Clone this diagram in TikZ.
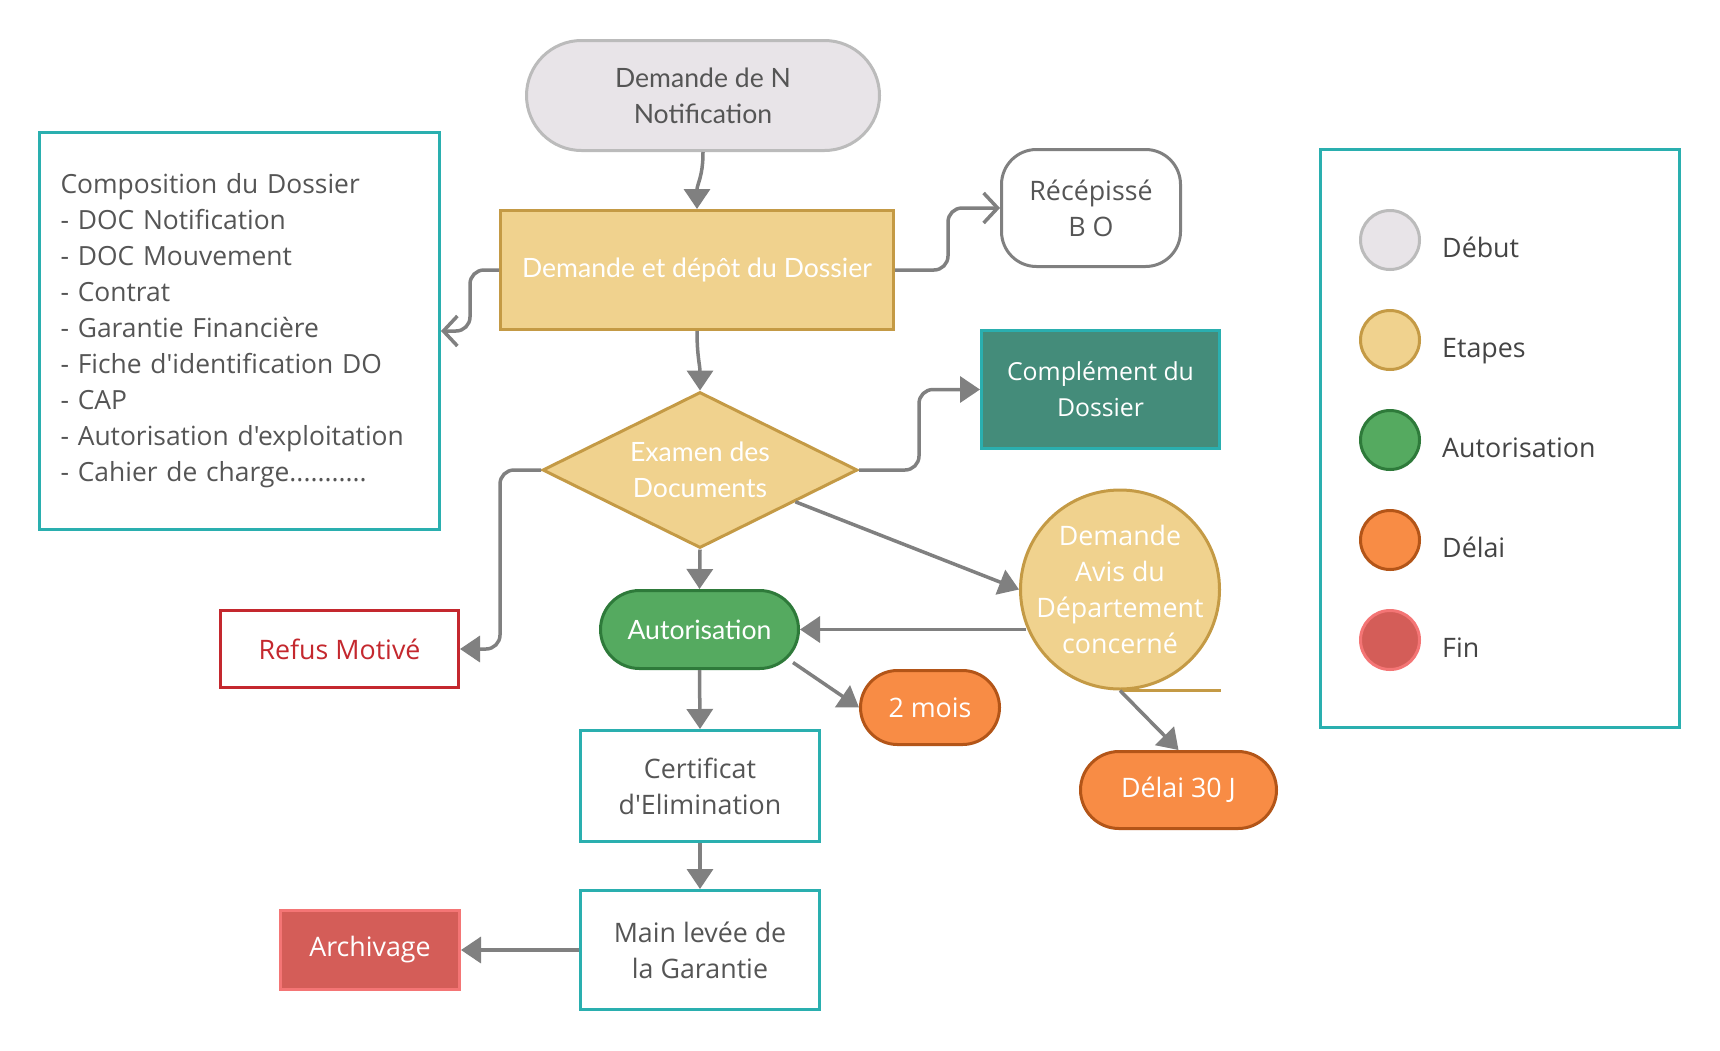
\documentclass[tikz,border=0pt]{standalone}
\usepackage{fontspec}
\setmainfont{Open Sans}[Ligatures=TeXOff]
\newfontfamily\latofont{Lato}[Ligatures=TeXOff]
\usetikzlibrary{arrows.meta,shapes.geometric,shapes.misc,calc}

\definecolor{startfill}{HTML}{E8E4E8}
\definecolor{startline}{HTML}{BBBBBB}
\definecolor{stepfill}{HTML}{F0D28E}
\definecolor{stepline}{HTML}{C49A45}
\definecolor{okfill}{HTML}{55AA60}
\definecolor{okline}{HTML}{2E7A3A}
\definecolor{delayfill}{HTML}{F88C45}
\definecolor{delayline}{HTML}{B35518}
\definecolor{endfill}{HTML}{D45D58}
\definecolor{endline}{HTML}{F47575}
\definecolor{tealline}{HTML}{2AAFAF}
\definecolor{complfill}{HTML}{448C7A}
\definecolor{refusred}{HTML}{C4282E}
\definecolor{connline}{HTML}{808080}
\definecolor{txtgray}{HTML}{555555}
\definecolor{legtxt}{HTML}{444444}

\newcommand\bodysize{\fontsize{26.8}{36}\selectfont}
\newcommand\latosize{\fontsize{26.6}{36}\selectfont\latofont}

\tikzset{
  base/.style={line width=3pt, inner sep=0pt, align=center, font=\bodysize},
  startbox/.style={base, rounded rectangle, fill=startfill, draw=startline, text=txtgray, font=\latosize},
  stepbox/.style={base, rectangle, fill=stepfill, draw=stepline, text=white, font=\latosize},
  decision/.style={base, diamond, aspect=2, fill=stepfill, draw=stepline, text=white, font=\latosize},
  okbox/.style={base, rounded rectangle, fill=okfill, draw=okline, text=white, font=\latosize},
  delaybox/.style={base, rounded rectangle, fill=delayfill, draw=delayline, text=white},
  tealbox/.style={base, rectangle, draw=tealline, fill=white, text=txtgray},
  complbox/.style={base, rectangle, draw=tealline, fill=complfill, text=white, font=\fontsize{24.8}{36}\selectfont},
  refusbox/.style={base, rectangle, draw=refusred, fill=white, text=refusred},
  endbox/.style={base, rectangle, draw=endline, fill=endfill, text=white},
  notebox/.style={base, rectangle, rounded corners=35pt, draw=connline, fill=white, text=txtgray},
  legdot/.style={circle, line width=3pt, minimum size=59pt, inner sep=0pt},
  legtext/.style={font=\bodysize, text=legtxt, inner sep=0pt, anchor=base west},
  arr/.style={draw=connline, line width=3.5pt, -{Triangle[length=20pt,width=26pt]}},
  chev/.style={draw=connline, line width=3.5pt, -{Straight Barb[length=14pt,width=30pt]}},
}

\begin{document}
\begin{tikzpicture}[x=1pt,y=-1pt]
\useasboundingbox[fill=white] (0,0) rectangle (1720,1050);

% main flow
\node[startbox, minimum width=353, minimum height=110] (notif) at (703,95.5) {Demande de N\\Notification};
\node[stepbox, minimum width=393, minimum height=119] (depot) at (697,270) {Demande et dépôt du Dossier};
\node[tealbox, minimum width=400, minimum height=397, text width=358, inner xsep=21pt, align=left,
      font=\fontsize{26.4}{36}\selectfont] (comp) at (239.5,331)
  {Composition du Dossier\\- DOC Notification\\- DOC Mouvement\\- Contrat\\- Garantie Financière\\- Fiche d'identification DO\\- CAP\\- Autorisation d'exploitation\\- Cahier de charge...........};
\node[notebox, minimum width=179, minimum height=117] (recep) at (1091,208) {Récépissé\\B O};
\node[decision, minimum width=315, minimum height=156] (diam) at (700,470) {Examen des\\Documents};
\node[complbox, minimum width=238, minimum height=118] (compl) at (1100.5,389.5) {Complément du\\Dossier};
\node[base, circle, inner sep=-10pt, minimum size=199, fill=stepfill, draw=stepline, text=white] (avis) at (1120,589.5)
  {Demande\\Avis du\\Département\\concerné};
\node[okbox, minimum width=198, minimum height=78] (aut) at (699.5,629.5) {Autorisation};
\node[refusbox, minimum width=238, minimum height=77] (refus) at (339.5,649) {Refus Motivé};
\node[delaybox, minimum width=139, minimum height=74] (mois) at (930,707.5) {2 mois};
\node[delaybox, minimum width=196, minimum height=77] (delai) at (1178.5,790) {Délai 30 J};
\node[tealbox, minimum width=239, minimum height=111] (cert) at (700,786) {Certificat\\d'Elimination};
\node[tealbox, minimum width=239, minimum height=119] (main) at (700,950) {Main levée de\\la Garantie};
\node[endbox, minimum width=179, minimum height=79] (arch) at (370,950) {Archivage};

% underline stroke below the circle
\draw[stepline, line width=3pt] (avis.south) -- (avis.south -| avis.east);

% connectors
\draw[arr] (notif.south) .. controls +(0,25) and +(0,-25) .. (depot.north);
\draw[chev, rounded corners=14pt] (depot.west) -- ++(-29,0) |- (comp.east);
\draw[chev, rounded corners=14pt] (depot.east) -- ++(53,0) |- (recep.west);
\draw[arr] (depot.south) .. controls +(0,25) and +(0,-25) .. (diam.north);
\draw[arr, rounded corners=14pt] (diam.east) -- ++(60,0) |- (compl.west);
\draw[arr, rounded corners=14pt] (diam.west) -- ++(-41,0) |- (refus.east);
\draw[arr] ($(diam.east)!0.4!(diam.south)$) -- (avis.west);
\draw[arr] (diam.south) -- (aut.north);
\draw[arr, shorten <=-7pt] (avis.west |- aut.east) -- (aut.east);
\draw[arr] ($(aut.east)+(-7,33)$) -- (mois.west);
\draw[arr] (avis.south) -- (delai.north);
\draw[arr] (aut.south) -- (cert.north);
\draw[arr] (cert.south) -- (main.north);
\draw[arr] (main.west) -- (arch.east);

% legend
\node[base, rectangle, draw=tealline, minimum width=359, minimum height=578] (legend) at (1500,438.5) {};
\node[legdot, fill=startfill, draw=startline] (d1) at (1390,240) {};
\node[legdot, fill=stepfill, draw=stepline] (d2) at (1390,340) {};
\node[legdot, fill=okfill, draw=okline] (d3) at (1390,440) {};
\node[legdot, fill=delayfill, draw=delayline] (d4) at (1390,540) {};
\node[legdot, fill=endfill, draw=endline] (d5) at (1390,640) {};
\node[legtext] (l1) at (1442,257) {Début};
\node[legtext] (l2) at (1442,357) {Etapes};
\node[legtext] (l3) at (1442,457) {Autorisation};
\node[legtext] (l4) at (1442,557) {Délai};
\node[legtext] (l5) at (1442,657) {Fin};
\end{tikzpicture}
\end{document}
